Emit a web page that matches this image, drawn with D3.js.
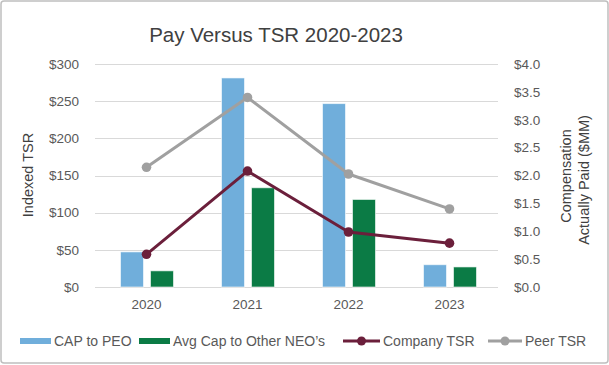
<!DOCTYPE html>
<html>
<head>
<meta charset="utf-8">
<script src="https://cdn.jsdelivr.net/npm/d3@7"></script>
<style>
  body { margin: 0; background: #fff; }
  svg text { font-family: "Liberation Sans", Arial, sans-serif; }
</style>
</head>
<body>
<div id="chart"></div>
<script>
var years = ["2020", "2021", "2022", "2023"];
var capPeo = [0.63, 3.75, 3.29, 0.40];       // $MM, right axis
var capNeo = [0.29, 1.78, 1.57, 0.36];       // $MM, right axis
var companyTsr = [44, 156, 74, 59];          // indexed TSR, left axis
var peerTsr = [161, 255, 152, 105];
var leftTicks = [0, 50, 100, 150, 200, 250, 300];
var rightTicks = [0, 0.5, 1, 1.5, 2, 2.5, 3, 3.5, 4];

var width = 609, height = 365;
var blue = "#70AEDB", green = "#0B7B45", maroon = "#6B1F3B", grey = "#A0A0A0";

var svg = d3.select("#chart").append("svg")
  .attr("width", width).attr("height", height);

svg.append("rect")
  .attr("x", 1).attr("y", 1).attr("width", width - 2).attr("height", height - 3)
  .attr("rx", 3)
  .attr("fill", "#fff").attr("stroke", "#BFBFBF").attr("stroke-width", 1.5);

var x = d3.scaleBand().domain(years).range([96, 500]);
var yL = d3.scaleLinear().domain([0, 300]).range([287, 64]);
var yR = d3.scaleLinear().domain([0, 4]).range([287, 64]);
var xSub = d3.scaleBand().domain(["peo", "neo"]).range([-26, 27]).paddingInner(0.233);

// title
svg.append("text")
  .attr("x", 276).attr("y", 42)
  .attr("text-anchor", "middle")
  .attr("font-size", 20.5).attr("fill", "#404040")
  .text("Pay Versus TSR 2020-2023");

// gridlines
svg.append("g").selectAll("line")
  .data(leftTicks).enter().append("line")
  .attr("x1", 95).attr("x2", 498)
  .attr("y1", function(d) { return Math.round(yL(d)) + 0.5; })
  .attr("y2", function(d) { return Math.round(yL(d)) + 0.5; })
  .attr("stroke", "#D9D9D9").attr("stroke-width", 1);

// left axis
var axL = d3.axisLeft(yL).tickValues(leftTicks).tickSize(0).tickPadding(0)
  .tickFormat(function(d) { return "$" + d; });
svg.append("g").attr("transform", "translate(79,0)").call(axL)
  .call(function(g) { g.select(".domain").remove(); })
  .selectAll("text").attr("font-size", 13.5).attr("fill", "#595959")
  .attr("font-family", "Liberation Sans, Arial, sans-serif");

// right axis
var axR = d3.axisRight(yR).tickValues(rightTicks).tickSize(0).tickPadding(0)
  .tickFormat(function(d) { return "$" + d3.format(".1f")(d); });
svg.append("g").attr("transform", "translate(514,0)").call(axR)
  .call(function(g) { g.select(".domain").remove(); })
  .selectAll("text").attr("font-size", 13.5).attr("fill", "#595959")
  .attr("font-family", "Liberation Sans, Arial, sans-serif");

// bottom axis
var axB = d3.axisBottom(x).tickSize(0).tickPadding(0);
svg.append("g").attr("transform", "translate(0,299)").call(axB)
  .call(function(g) { g.select(".domain").remove(); })
  .selectAll("text").attr("font-size", 13.5).attr("fill", "#595959")
  .attr("font-family", "Liberation Sans, Arial, sans-serif");

// axis titles
svg.append("text")
  .attr("transform", "translate(33,175) rotate(-90)")
  .attr("text-anchor", "middle").attr("font-size", 14.5).attr("fill", "#404040")
  .text("Indexed TSR");

var rt = svg.append("text")
  .attr("transform", "translate(571,180) rotate(-90)")
  .attr("text-anchor", "middle").attr("font-size", 14.5).attr("fill", "#404040");
rt.append("tspan").attr("x", 4).attr("dy", 0).text("Compensation");
rt.append("tspan").attr("x", 0).attr("dy", 18).text("Actually Paid ($MM)");

// bars
var barData = years.map(function(y, i) {
  return [{ year: y, key: "peo", v: capPeo[i] }, { year: y, key: "neo", v: capNeo[i] }];
});
var groups = svg.append("g").selectAll("g")
  .data(barData).enter().append("g")
  .attr("transform", function(d) { return "translate(" + (x(d[0].year) + x.bandwidth() / 2) + ",0)"; });
groups.selectAll("rect")
  .data(function(d) { return d; }).enter().append("rect")
  .attr("x", function(d) { return xSub(d.key); })
  .attr("width", xSub.bandwidth())
  .attr("y", function(d) { return yR(d.v); })
  .attr("height", function(d) { return yR(0) - yR(d.v); })
  .attr("fill", function(d) { return d.key === "peo" ? blue : green; })
  .attr("stroke", "#fff").attr("stroke-opacity", 0.6).attr("stroke-width", 1);

// lines
var line = d3.line()
  .x(function(d, i) { return x(years[i]) + x.bandwidth() / 2; })
  .y(function(d) { return yL(d); });

[[peerTsr, grey], [companyTsr, maroon]].forEach(function(s) {
  svg.append("path").datum(s[0])
    .attr("d", line).attr("fill", "none")
    .attr("stroke", s[1]).attr("stroke-width", 3).attr("stroke-linejoin", "round");
  svg.append("g").selectAll("circle")
    .data(s[0]).enter().append("circle")
    .attr("cx", function(d, i) { return x(years[i]) + x.bandwidth() / 2; })
    .attr("cy", function(d) { return yL(d); })
    .attr("r", 4.8).attr("fill", s[1]);
});

// legend
var legend = [
  { label: "CAP to PEO", color: blue, type: "bar", x: 20, w: 31 },
  { label: "Avg Cap to Other NEO\u2019s", color: green, type: "bar", x: 139, w: 31 },
  { label: "Company TSR", color: maroon, type: "line", x: 343, w: 37 },
  { label: "Peer TSR", color: grey, type: "line", x: 488, w: 34 }
];
var lg = svg.append("g").selectAll("g")
  .data(legend).enter().append("g")
  .attr("transform", function(d) { return "translate(" + d.x + ",341)"; });
lg.filter(function(d) { return d.type === "bar"; }).append("rect")
  .attr("x", 0).attr("y", -3).attr("width", function(d) { return d.w; }).attr("height", 6)
  .attr("fill", function(d) { return d.color; });
lg.filter(function(d) { return d.type === "line"; }).append("line")
  .attr("x1", 0).attr("x2", function(d) { return d.w; })
  .attr("stroke", function(d) { return d.color; }).attr("stroke-width", 3);
lg.filter(function(d) { return d.type === "line"; }).append("circle")
  .attr("cx", function(d) { return d.w / 2; }).attr("r", 4.5)
  .attr("fill", function(d) { return d.color; });
lg.append("text")
  .attr("x", function(d) { return d.w + 3; }).attr("y", 5)
  .attr("font-size", 14).attr("fill", "#595959")
  .text(function(d) { return d.label; });
</script>
</body>
</html>
